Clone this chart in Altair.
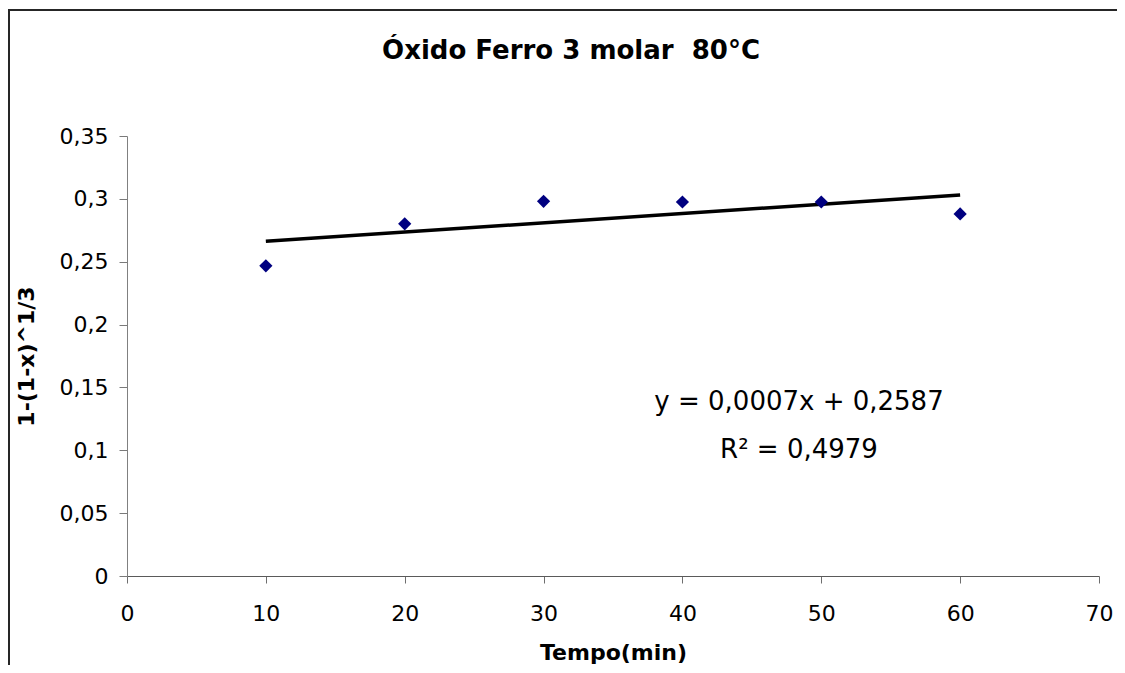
import altair as alt
import pandas as pd

# data
tempo = [10, 20, 30, 40, 50, 60]
valor = [0.2467, 0.2801, 0.2980, 0.2975, 0.2975, 0.2880]

x_ticks = [0, 10, 20, 30, 40, 50, 60, 70]
y_ticks = [0, 0.05, 0.1, 0.15, 0.2, 0.25, 0.3, 0.35]

titulo = "Óxido Ferro 3 molar \u00a080°C"
eq_text = "y = 0,0007x + 0,2587"
r2_text = "R² = 0,4979"
x_title = "Tempo(min)"
y_title = "1-(1-x)^1/3"

FONT = "DejaVu Sans"

df = pd.DataFrame({"x": tempo, "y": valor})

W, H = 972, 440

xscale = alt.Scale(domain=[0, 70], nice=False, zero=False)
yscale = alt.Scale(domain=[0, 0.35], nice=False)

x_enc = alt.X("x:Q", scale=xscale, axis=alt.Axis(
    values=x_ticks, grid=False, title=x_title, titleFont=FONT, titleFontSize=22,
    titleFontWeight="bold", titleColor="black", titleX=W / 2, titleY=83,
    titleBaseline="alphabetic", titleAlign="center",
    labelFont=FONT, labelFontSize=22, labelColor="black", labelBaseline="alphabetic",
    labelPadding=37, tickSize=7, tickColor="#6e6e6e", domainColor="#5a5a5a",
    labelFlush=False, labelOverlap=False))
y_enc = alt.Y("y:Q", scale=yscale, axis=alt.Axis(
    values=y_ticks, grid=False, title=y_title, titleFont=FONT, titleFontSize=22,
    titleFontWeight="bold", titleColor="black", titleX=-101, titleY=H / 2,
    titleAngle=-90, titleBaseline="middle", titleAlign="center",
    labelFont=FONT, labelFontSize=22, labelColor="black", labelPadding=11,
    tickSize=8, tickColor="#7a7a7a", domainColor="#808080",
    labelExpr="replace(toString(datum.value), '.', ',')",
    labelFlush=False, labelOverlap=False))

base = alt.Chart(df)

points = base.mark_point(shape="diamond", filled=True, size=175, color="#000080", opacity=1).encode(
    x=x_enc, y=y_enc)

trend = base.transform_regression("x", "y").mark_line(color="black", strokeWidth=3.5).encode(
    x=alt.X("x:Q", scale=xscale), y=alt.Y("y:Q", scale=yscale))

title_df = pd.DataFrame({"t": [titulo]})
title_mark = alt.Chart(title_df).mark_text(
    font=FONT, fontSize=26, fontWeight="bold", color="black", align="center", baseline="alphabetic"
).encode(text="t:N", x=alt.value(444), y=alt.value(-77))

ann_df = pd.DataFrame({"t": [eq_text, r2_text], "yy": [274, 322]})
eq_mark = alt.Chart(ann_df).mark_text(
    font=FONT, fontSize=26, color="black", align="center", baseline="alphabetic"
).encode(text="t:N", x=alt.value(672), y=alt.Y("yy:Q", scale=None))

frame_df = pd.DataFrame({"k": [0]})
frame_left = alt.Chart(frame_df).mark_rule(color="#262626", strokeWidth=2).encode(
    x=alt.value(-118), y=alt.value(-126), y2=alt.value(529))
frame_top = alt.Chart(frame_df).mark_rule(color="#262626", strokeWidth=2).encode(
    x=alt.value(-119), x2=alt.value(990), y=alt.value(-126))

chart = alt.layer(trend, points, title_mark, eq_mark, frame_left, frame_top).properties(
    width=W, height=H,
    padding={"left": 119, "top": 128, "right": 18, "bottom": 89},
    autosize=alt.AutoSizeParams(type="none"),
    background="white",
).configure_view(strokeWidth=0)

chart.save("out.html", embed_options={"renderer": "svg", "actions": False})
